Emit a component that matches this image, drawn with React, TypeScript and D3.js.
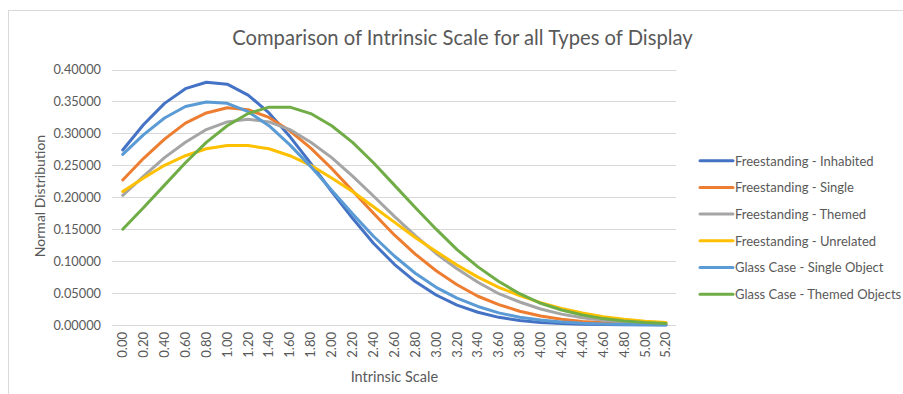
import React from "react";
import * as d3 from "d3";

const categories = ["0.00","0.20","0.40","0.60","0.80","1.00","1.20","1.40","1.60","1.80","2.00","2.20","2.40","2.60","2.80","3.00","3.20","3.40","3.60","3.80","4.00","4.20","4.40","4.60","4.80","5.00","5.20"];

const inhabited = [0.274,0.314,0.347,0.370,0.380,0.377,0.360,0.332,0.295,0.253,0.209,0.167,0.128,0.095,0.068,0.047,0.031,0.020,0.012,0.007,0.004,0.0023,0.0013,0.0007,0.0003,0.0002,0.0001];
const single = [0.227,0.261,0.291,0.316,0.332,0.340,0.337,0.325,0.304,0.277,0.245,0.210,0.175,0.141,0.111,0.085,0.063,0.045,0.032,0.0215,0.0142,0.0091,0.0056,0.0034,0.0020,0.0011,0.0006];
const themed = [0.203,0.233,0.262,0.286,0.306,0.318,0.322,0.318,0.306,0.286,0.262,0.233,0.202,0.170,0.140,0.112,0.088,0.067,0.049,0.036,0.025,0.017,0.0115,0.0075,0.0048,0.0029,0.0018];
const unrelated = [0.209,0.230,0.250,0.265,0.276,0.281,0.281,0.276,0.265,0.250,0.230,0.209,0.185,0.161,0.137,0.115,0.094,0.075,0.059,0.046,0.035,0.026,0.019,0.013,0.009,0.006,0.004];
const glassSingle = [0.267,0.298,0.324,0.342,0.349,0.347,0.334,0.312,0.282,0.248,0.211,0.174,0.139,0.108,0.081,0.059,0.042,0.029,0.019,0.012,0.0077,0.0047,0.0027,0.0016,0.0009,0.0005,0.0002];
const glassThemed = [0.150,0.184,0.219,0.254,0.286,0.312,0.331,0.341,0.341,0.331,0.312,0.286,0.254,0.219,0.184,0.150,0.118,0.091,0.068,0.049,0.034,0.0235,0.0156,0.010,0.0063,0.0038,0.0022];

const seriesNames = ["Freestanding - Inhabited","Freestanding - Single","Freestanding - Themed","Freestanding - Unrelated","Glass Case - Single Object","Glass Case - Themed Objects"];
const seriesColors = ["#4472C4","#ED7D31","#A5A5A5","#FFC000","#5B9BD5","#70AD47"];
const seriesValues = [inhabited, single, themed, unrelated, glassSingle, glassThemed];
const yTicks = [0,0.05,0.1,0.15,0.2,0.25,0.3,0.35,0.4];

const FONT = "Lato, 'Open Sans', sans-serif";
const TXT = "#595959";

export default function App() {
  const left = 112.3, right = 676.4, top = 69.5, bottom = 325;
  const x = d3.scaleBand<string>().domain(categories).range([left, right]);
  const cx = (c: string) => (x(c) as number) + x.bandwidth() / 2;
  const y = d3.scaleLinear().domain([0, 0.4]).range([bottom, top]);
  const line = d3.line<number>().x((_, i) => cx(categories[i])).y(v => y(v));

  return (
    <svg width={903} height={394} style={{ position: "absolute", left: 0, top: 0, background: "#fff" }} fontFamily={FONT}>
      <rect x={0} y={0} width={903} height={394} fill="#fff" />
      <line x1={8} y1={10.5} x2={903} y2={10.5} stroke="#D9D9D9" strokeWidth={1} />
      <line x1={8.5} y1={10.5} x2={8.5} y2={394} stroke="#D9D9D9" strokeWidth={1} />
      <text x={462.5} y={45} textAnchor="middle" fontSize={20.2} fill={TXT}>Comparison of Intrinsic Scale for all Types of Display</text>
      {yTicks.map(t => (
        <g key={t}>
          <line x1={left} x2={right} y1={Math.round(y(t)) + 0.5} y2={Math.round(y(t)) + 0.5} stroke="#D9D9D9" strokeWidth={1} />
          <text x={101} y={y(t) + 4.5} textAnchor="end" fontSize={12.8} fill={TXT}>{t.toFixed(5)}</text>
        </g>
      ))}
      {categories.map(c => (
        <text key={c} transform={`translate(${cx(c) + 4.5},332) rotate(-90)`} textAnchor="end" fontSize={13} fill={TXT}>{c}</text>
      ))}
      <text x={(left + right) / 2} y={382} textAnchor="middle" fontSize={14.5} fill={TXT}>Intrinsic Scale</text>
      <text transform={`translate(45,196) rotate(-90)`} textAnchor="middle" fontSize={14} fill={TXT}>Normal Distribution</text>
      {seriesValues.map((vals, i) => (
        <path key={i} d={line(vals) as string} fill="none" stroke={seriesColors[i]} strokeWidth={3} strokeLinejoin="round" strokeLinecap="round" />
      ))}
      {seriesNames.map((n, i) => (
        <g key={n}>
          <line x1={700} x2={733} y1={160.7 + i * 26.7} y2={160.7 + i * 26.7} stroke={seriesColors[i]} strokeWidth={3} strokeLinecap="round" />
          <text x={735} y={160.7 + i * 26.7 + 4.8} fontSize={13} fill={TXT}>{n}</text>
        </g>
      ))}
    </svg>
  );
}
